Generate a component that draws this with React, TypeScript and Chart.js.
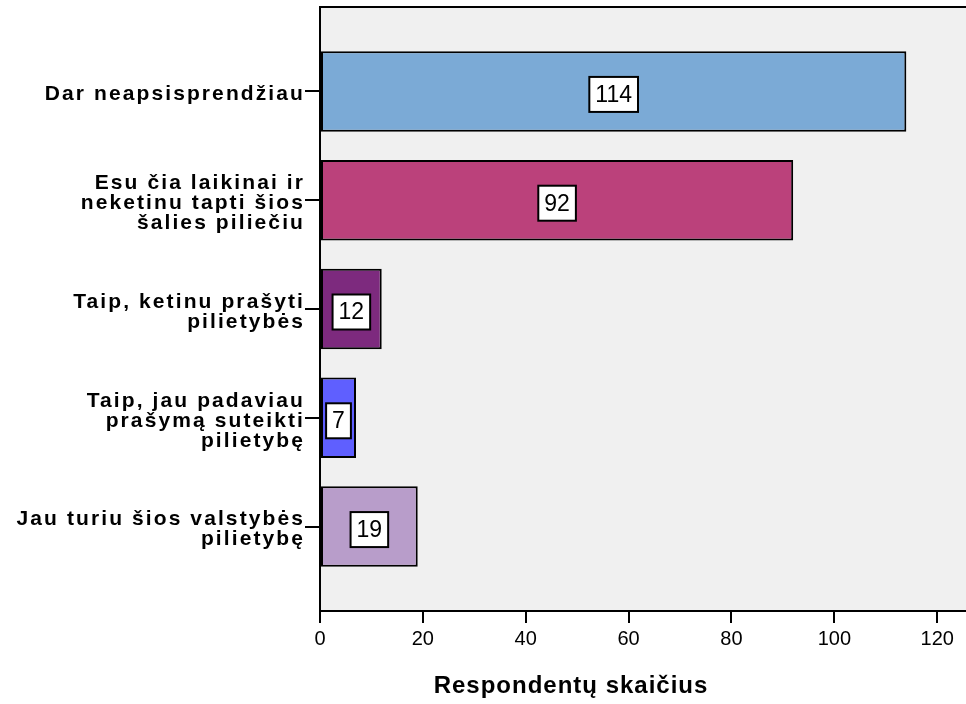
import React, { useEffect, useRef } from "react";
import { Chart, registerables } from "chart.js";

Chart.register(...registerables);

// ---- data ----
const categories: string[][] = [
  ["Dar neapsisprendžiau"],
  ["Esu čia laikinai ir", "neketinu tapti šios", "šalies piliečiu"],
  ["Taip, ketinu prašyti", "pilietybės"],
  ["Taip, jau padaviau", "prašymą suteikti", "pilietybę"],
  ["Jau turiu šios valstybės", "pilietybę"],
];
const counts: number[] = [114, 92, 12, 7, 19];
const barColors: string[] = ["#7BAAD6", "#BB417B", "#7D2A7E", "#5F5FFF", "#B89DCA"];
const xTickValues: number[] = [0, 20, 40, 60, 80, 100, 120];
const xAxisTitle = "Respondentų skaičius";

const FONT = "'Liberation Sans', Arial, Helvetica, sans-serif";

const decorPlugin = {
  id: "decor",
  beforeDraw(chart: any) {
    const { ctx, chartArea } = chart;
    ctx.save();
    ctx.letterSpacing = "0px";
    ctx.fillStyle = "#F0F0F0";
    ctx.fillRect(chartArea.left, chartArea.top, chartArea.right - chartArea.left, chartArea.bottom - chartArea.top);
    ctx.restore();
    ctx.letterSpacing = "0px";
  },
  afterDatasetsDraw(chart: any) {
    const ctx = chart.ctx;
    const meta = chart.getDatasetMeta(0);
    ctx.save();
    ctx.letterSpacing = "0px";
    ctx.font = `23px ${FONT}`;
    ctx.textAlign = "center";
    ctx.textBaseline = "middle";
    meta.data.forEach((bar: any, i: number) => {
      const p = bar.getProps(["x", "y", "base"], true);
      const cx = (p.x + p.base) / 2;
      const cy = p.y + 3;
      const text = String(counts[i]);
      const w = ctx.measureText(text).width + 12;
      const h = 35;
      ctx.fillStyle = "#FFFFFF";
      ctx.fillRect(cx - w / 2, cy - h / 2, w, h);
      ctx.strokeStyle = "#000000";
      ctx.lineWidth = 2;
      ctx.strokeRect(cx - w / 2, cy - h / 2, w, h);
      ctx.fillStyle = "#000000";
      ctx.fillText(text, cx, cy + 1);
    });
    ctx.restore();
    // y-axis labels (drawn after datasets, z = 1) use wide letter spacing
    ctx.letterSpacing = "2.1px";
  },
  afterDraw(chart: any) {
    const { ctx, chartArea } = chart;
    ctx.letterSpacing = "0px";
    ctx.save();
    // top frame line
    ctx.strokeStyle = "#000000";
    ctx.lineWidth = 2;
    ctx.beginPath();
    ctx.moveTo(chartArea.left - 1, chartArea.top);
    ctx.lineTo(chartArea.right, chartArea.top);
    ctx.stroke();
    // axis title
    ctx.letterSpacing = "1px";
    ctx.font = `bold 24px ${FONT}`;
    ctx.fillStyle = "#000000";
    ctx.textAlign = "center";
    ctx.textBaseline = "alphabetic";
    ctx.fillText(xAxisTitle, 571, 693);
    ctx.restore();
    ctx.letterSpacing = "0px";
  },
};

export default function App() {
  const canvasRef = useRef<HTMLCanvasElement | null>(null);

  useEffect(() => {
    const canvas = canvasRef.current;
    if (!canvas) return;
    const chart = new Chart(canvas, {
      type: "bar",
      data: {
        datasets: [
          {
            data: counts.map((v, i) => ({ x: v, y: i })) as any,
            backgroundColor: barColors,
            borderColor: "#000000",
            borderWidth: 2,
            borderSkipped: false,
            barPercentage: 0.74,
            categoryPercentage: 1,
          },
        ],
      },
      options: {
        indexAxis: "y",
        responsive: false,
        animation: false,
        devicePixelRatio: 1,
        layout: { padding: { top: 7, right: 0, left: 0, bottom: 0 } },
        plugins: {
          legend: { display: false },
          tooltip: { enabled: false },
          title: { display: false },
        },
        scales: {
          x: {
            type: "linear",
            position: "bottom",
            min: 0,
            max: 125.6,
            offset: false,
            afterBuildTicks: (s: any) => {
              s.ticks = xTickValues.map((v) => ({ value: v }));
            },
            afterFit: (s: any) => {
              s.height = 93;
              s.paddingLeft = 0;
              s.paddingRight = 0;
            },
            grid: {
              offset: false,
              drawOnChartArea: false,
              drawTicks: true,
              tickLength: 12,
              color: "#000000",
              lineWidth: 2,
            },
            border: { display: true, color: "#000000", width: 2 },
            ticks: {
              autoSkip: false,
              maxRotation: 0,
              padding: 4,
              color: "#000000",
              font: { family: FONT, size: 20 },
            },
          },
          y: {
            type: "linear",
            reverse: true,
            offset: false,
            min: -0.776,
            max: 4.776,
            afterBuildTicks: (s: any) => {
              s.ticks = categories.map((_, i) => ({ value: i }));
            },
            afterFit: (s: any) => {
              s.width = 320;
              s.paddingTop = 0;
              s.paddingBottom = 0;
            },
            grid: {
              offset: false,
              drawOnChartArea: false,
              drawTicks: true,
              tickLength: 15,
              color: "#000000",
              lineWidth: 2,
            },
            border: { display: true, color: "#000000", width: 2 },
            ticks: {
              z: 1,
              autoSkip: false,
              padding: 0,
              labelOffset: 3,
              color: "#000000",
              font: { family: FONT, size: 21, weight: "bold", lineHeight: 0.95 },
              callback: (value: any) => categories[Number(value)] as any,
            },
          },
        },
      },
      plugins: [decorPlugin],
    } as any);
    return () => chart.destroy();
  }, []);

  return (
    <div style={{ position: "fixed", left: 0, top: 0, width: 966, height: 704, background: "#FFFFFF" }}>
      <canvas ref={canvasRef} width={966} height={704} style={{ display: "block" }} />
    </div>
  );
}
